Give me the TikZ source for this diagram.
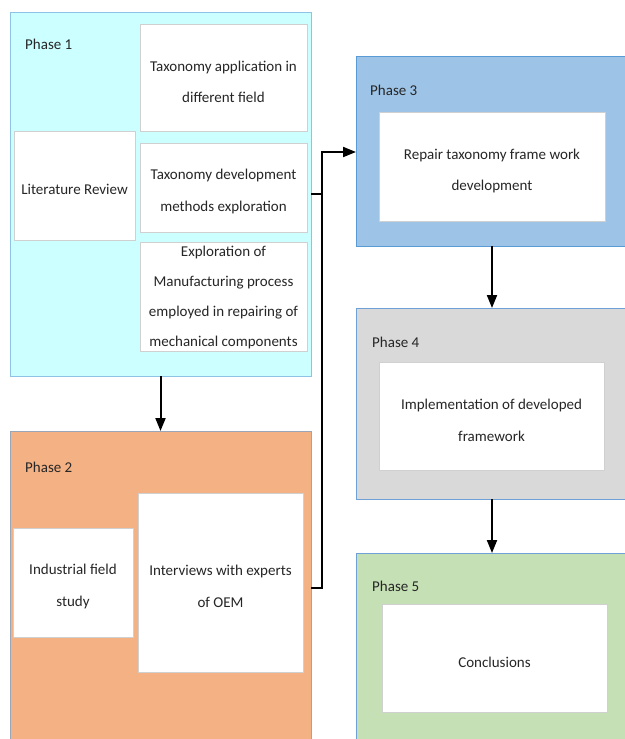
\documentclass[tikz,border=0pt]{standalone}
\usepackage{fontspec}
\setmainfont{Carlito}
\usetikzlibrary{arrows.meta}
\definecolor{pA}{HTML}{CCFFFF}
\definecolor{pAb}{HTML}{8FC3E6}
\definecolor{pB}{HTML}{F4B183}
\definecolor{pBb}{HTML}{9AA6B8}
\definecolor{pC}{HTML}{9DC3E6}
\definecolor{pCb}{HTML}{5B9BD5}
\definecolor{pD}{HTML}{D9D9D9}
\definecolor{pE}{HTML}{C5E0B4}
\definecolor{blueb}{HTML}{6FA0D6}
\definecolor{innerb}{HTML}{D0D0D0}
\begin{document}
\begin{tikzpicture}[x=1pt,y=-1pt,
  phasebox/.style={draw, line width=1pt, inner sep=0pt, outer sep=0pt},
  innerbox/.style={draw=innerb, fill=white, line width=1pt, inner sep=0pt, outer sep=0pt},
  txt/.style={font=\fontsize{15}{31.5}\selectfont, align=center, text=black!85},
  lbl/.style={font=\fontsize{15}{18}\selectfont, anchor=west, inner sep=0pt, text=black!85},
  conn/.style={line width=2pt, -{Triangle[length=13pt,width=10pt]}},
  plain/.style={line width=2pt}]
\useasboundingbox (0,0) rectangle (624,739);
% phase boxes
\node[phasebox, fill=pA, draw=pAb, minimum width=301pt, minimum height=364pt] (p1) at (160.5,194) {};
\node[phasebox, fill=pB, draw=pBb, minimum width=301pt, minimum height=314pt] (p2) at (160.5,588) {};
\node[phasebox, fill=pC, draw=pCb, minimum width=272pt, minimum height=190pt] (p3) at (492,151) {};
\node[phasebox, fill=pD, draw=blueb, minimum width=272pt, minimum height=191pt] (p4) at (492,403.5) {};
\node[phasebox, fill=pE, draw=blueb, minimum width=272pt, minimum height=192pt] (p5) at (492,649) {};
% labels
\node[lbl] (l1) at (25,44) {Phase 1};
\node[lbl] (l2) at (25,467) {Phase 2};
\node[lbl] (l3) at (370,90) {Phase 3};
\node[lbl] (l4) at (372,342) {Phase 4};
\node[lbl] (l5) at (372,586) {Phase 5};
% phase 1 inner boxes
\node[innerbox, minimum width=167pt, minimum height=107pt] (a1) at (223.5,77.5) {};
\node[txt] (t1) at (223.5,82) {Taxonomy application in\\different field};
\node[innerbox, minimum width=121pt, minimum height=109pt] (a2) at (74.5,185.5) {};
\node[txt] (t2) at (74.5,189) {Literature Review};
\node[innerbox, minimum width=167pt, minimum height=89pt] (a3) at (223.5,187.5) {};
\node[txt] (t3) at (223.5,191.5) {Taxonomy development\\methods exploration};
\node[innerbox, minimum width=167pt, minimum height=109pt] (a4) at (223.5,296.5) {};
\node[txt, font=\fontsize{15}{30}\selectfont] (t4) at (223.5,297.5) {Exploration of\\Manufacturing process\\employed in repairing of\\mechanical components};
% phase 2 inner boxes
\node[innerbox, minimum width=120pt, minimum height=109pt] (b1) at (73,582.5) {};
\node[txt] (tb1) at (73,586.5) {Industrial field\\study};
\node[innerbox, minimum width=165pt, minimum height=179pt] (b2) at (220.5,582.5) {};
\node[txt] (tb2) at (220.5,586.5) {Interviews with experts\\of OEM};
% phase 3-5 inner boxes
\node[innerbox, minimum width=226pt, minimum height=109pt] (c1) at (492,166.5) {};
\node[txt] (tc1) at (492,171) {Repair taxonomy frame work\\development};
\node[innerbox, minimum width=225pt, minimum height=108pt] (d1) at (491.5,416) {};
\node[txt] (td1) at (491.5,420.5) {Implementation of developed\\framework};
\node[innerbox, minimum width=225pt, minimum height=108pt] (e1) at (494.5,658) {};
\node[txt] (te1) at (494.5,662) {Conclusions};
% connectors
\coordinate (j1) at (322,194);
\coordinate (j2) at (322,588);
\coordinate (j3) at (322,152);
\draw[conn] (p1.south) -- (p2.north);
\draw[conn] (p3.south) -- (p4.north);
\draw[conn] (p4.south) -- (p5.north);
\draw[plain] (p1.east |- j1) -- (j1);
\draw[conn] (p2.east |- j2) -- (j2) -- (j3) -- (p3.west |- j3);
\end{tikzpicture}
\end{document}
